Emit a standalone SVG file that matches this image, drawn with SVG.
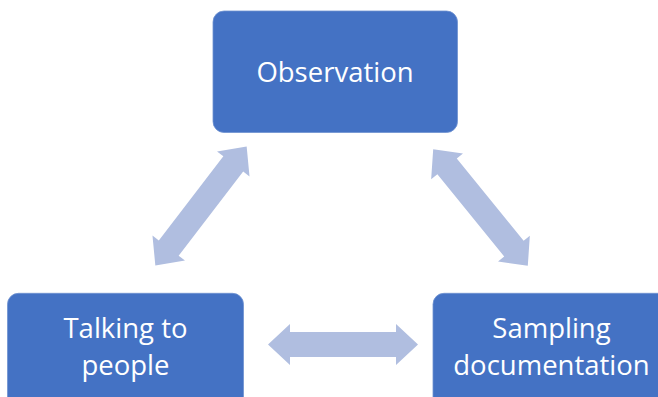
<svg xmlns="http://www.w3.org/2000/svg" width="658" height="397" viewBox="0 0 658 397">
  <style>
    .box { fill: #4472C4; stroke: #6f92d0; stroke-width: 0.8; }
    .lbl { font-family: "Open Sans", "Noto Sans", "Liberation Sans", sans-serif; font-size: 27.5px; fill: #ffffff; text-anchor: middle; }
    .arr { fill: #B0BEE0; }
  </style>
  <defs>
    <path id="dblarrow" d="M -75 0 L -53 -20.5 L -53 -12.5 L 53 -12.5 L 53 -20.5 L 75 0 L 53 20.5 L 53 12.5 L -53 12.5 L -53 20.5 Z"/>
  </defs>
  <rect width="658" height="397" fill="#ffffff"/>
  <g id="connectors">
    <use href="#dblarrow" class="arr" transform="translate(201 206) rotate(-52.5)"/>
    <use href="#dblarrow" class="arr" transform="translate(480.5 207.5) rotate(50.9)"/>
    <use href="#dblarrow" class="arr" transform="translate(343 344.5)"/>
  </g>
  <g id="observation">
    <rect class="box" x="213" y="11" width="244.5" height="121.5" rx="11"/>
    <text class="lbl" x="335" y="82">Observation</text>
  </g>
  <g id="talking">
    <rect class="box" x="7.5" y="293.3" width="236" height="121.5" rx="11"/>
    <text class="lbl" x="125.5" y="338">Talking to</text>
    <text class="lbl" x="125.5" y="375">people</text>
  </g>
  <g id="sampling">
    <rect class="box" x="433" y="293.3" width="236" height="121.5" rx="11"/>
    <text class="lbl" x="551.5" y="338">Sampling</text>
    <text class="lbl" x="551.5" y="375">documentation</text>
  </g>
</svg>
